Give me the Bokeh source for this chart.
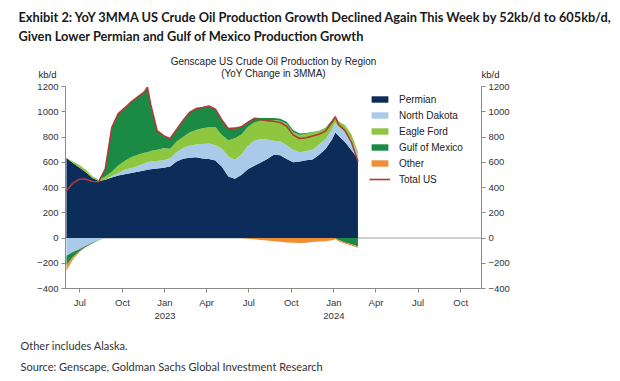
import numpy as np
from bokeh.plotting import figure
from bokeh.models import (Range1d, LinearAxis, FixedTicker, Span, Label,
                          Legend, LegendItem)
from bokeh.embed import file_html
from bokeh.resources import INLINE

# ---------------- data (kb/d, YoY change in 3MMA) ----------------
dates = ["2022-06-02", "2022-06-16", "2022-06-30", "2022-07-14", "2022-07-28",
         "2022-08-11", "2022-08-25", "2022-09-08", "2022-09-22", "2022-10-06",
         "2022-10-20", "2022-11-03", "2022-11-17", "2022-11-24", "2022-12-01",
         "2022-12-15", "2022-12-29", "2023-01-12", "2023-01-26", "2023-02-09",
         "2023-02-23", "2023-03-09", "2023-03-23", "2023-04-06", "2023-04-20",
         "2023-05-04", "2023-05-18", "2023-06-01", "2023-06-15", "2023-06-29",
         "2023-07-13", "2023-07-27", "2023-08-10", "2023-08-24", "2023-09-07",
         "2023-09-21", "2023-10-05", "2023-10-19", "2023-11-02", "2023-11-16",
         "2023-11-30", "2023-12-14", "2023-12-28", "2024-01-04", "2024-01-11",
         "2024-01-25", "2024-02-08", "2024-02-22"]

permian = [634, 595, 558, 520, 475, 452, 462, 480, 495, 505,
           515, 525, 535, 540, 545, 550, 556, 566, 605, 628,
           636, 640, 630, 626, 613, 565, 488, 470, 500, 545,
           572, 598, 625, 660, 655, 625, 600, 605, 615, 622,
           660, 705, 780, 835, 810, 760, 695, 628]
north_dakota = [-140, -110, -90, -62, -38, -15, 0, 10, 20, 35,
                40, 45, 55, 60, 60, 60, 60, 65, 75, 84,
                94, 100, 115, 122, 122, 141, 157, 150, 160, 185,
                198, 187, 155, 110, 110, 110, 100, 75, 75, 78,
                80, 80, 80, 80, 70, 90, 80, 35]
eagle_ford = [0, 10, 20, 20, 15, 10, 25, 35, 60, 70,
              85, 90, 85, 80, 85, 90, 95, 75, 85, 88,
              105, 115, 125, 129, 142, 109, 130, 170, 160, 150,
              145, 145, 155, 165, 163, 170, 140, 135, 135, 135,
              108, 80, 55, 55, 45, 45, 45, 20]
gulf_of_mexico = [-75, -40, -15, -8, -5, -2, 60, 350, 410, 420,
                  438, 458, 480, 515, 370, 150, 100, 80, 95, 130,
                  160, 170, 163, 168, 143, 120, 91, 80, 60, 40,
                  40, 21, 15, 15, 17, 15, 15, 13, 7, 5,
                  2, 7, 20, 0, -15, -35, -50, -68]
other = [-45, -20, -8, -3, 0, 0, 0, 0, 0, 0,
         0, 0, 0, 0, 0, 0, 0, 0, 0, 0,
         0, 0, 0, 0, 0, 0, 0, 0, 0, -5,
         -10, -15, -20, -25, -30, -35, -38, -40, -38, -32,
         -28, -25, -18, -10, -10, -10, -10, -10]

series_names = ["Permian", "North Dakota", "Eagle Ford", "Gulf of Mexico", "Other"]
series_colors = ["#0c2d5a", "#a9cbe9", "#8fc640", "#1b8a45", "#ef8e35"]
total_color = "#b03a35"

tick_dates = ["2022-07-01", "2022-10-01", "2023-01-01", "2023-04-01", "2023-07-01",
              "2023-10-01", "2024-01-01", "2024-04-01", "2024-07-01", "2024-10-01"]
tick_labels = ["Jul", "Oct", "Jan\n2023", "Apr", "Jul", "Oct", "Jan\n2024",
               "Apr", "Jul", "Oct"]
y_ticks = [-400, -200, 0, 200, 400, 600, 800, 1000, 1200]
x_start, x_end = "2022-05-31", "2024-11-15"
y_start, y_end = -400, 1200

title1 = "Exhibit 2: YoY 3MMA US Crude Oil Production Growth Declined Again This Week by 52kb/d to 605kb/d,"
title2 = "Given Lower Permian and Gulf of Mexico Production Growth"
chart_title1 = "Genscape US Crude Oil Production by Region"
chart_title2 = "(YoY Change in 3MMA)"
note1 = "Other includes Alaska."
note2 = "Source: Genscape, Goldman Sachs Global Investment Research"


def ms(d):
    return np.array(d, dtype="datetime64[ms]").astype("int64").astype(float)


x = ms(dates)
vals = [np.array(v, dtype=float) for v in
        (permian, north_dakota, eagle_ford, gulf_of_mexico, other)]
total = np.sum(vals, axis=0)

# ---------------- layout ----------------
W, H = 620, 380
FL, FR, FT, FB = 65, 481, 86, 288     # frame edges in page px
X0, X1 = float(ms(x_start)), float(ms(x_end))
p = figure(width=W, height=H, output_backend="svg", toolbar_location=None,
           x_range=Range1d(X0, X1), y_range=Range1d(y_start, y_end),
           min_border_left=FL, min_border_right=W - FR,
           min_border_top=FT, min_border_bottom=H - FB)
p.outline_line_color = None
p.grid.visible = False
p.background_fill_color = "white"

AX = "#8a8a8a"
FONT = "Liberation Sans"
HEAD = "Lato"


def style_axis(ax):
    ax.axis_line_color = AX
    ax.major_tick_line_color = AX
    ax.minor_tick_line_color = None
    ax.major_tick_out = 4
    ax.major_tick_in = 0
    ax.major_label_text_font = FONT
    ax.major_label_text_font_size = "9.5px"
    ax.major_label_text_color = "#333333"
    ax.major_label_standoff = 3


p.yaxis.ticker = FixedTicker(ticks=y_ticks)
style_axis(p.yaxis[0])
ry = LinearAxis(ticker=FixedTicker(ticks=y_ticks))
style_axis(ry)
p.add_layout(ry, "right")

tick_ms = [int(v) for v in ms(tick_dates)]
p.xaxis.ticker = FixedTicker(ticks=tick_ms)
p.xaxis.major_label_overrides = {t: l for t, l in zip(tick_ms, tick_labels)}
style_axis(p.xaxis[0])
p.xaxis.major_label_standoff = 4

p.add_layout(Span(location=0, dimension="width", line_color="#a0a0a0",
                  line_width=1, level="underlay"))

# ---------------- stacked areas ----------------
renderers = {}
base = np.zeros_like(x)
for name, v, c in zip(series_names, vals, series_colors):
    pos = np.clip(v, 0, None)
    r = p.varea(x=x, y1=base, y2=base + pos, fill_color=c, fill_alpha=1)
    renderers[name] = r
    base = base + pos
base = np.zeros_like(x)
for name, v, c in zip(series_names, vals, series_colors):
    if name == "Permian":
        continue
    neg = np.clip(v, None, 0)
    p.varea(x=x, y1=base + neg, y2=base, fill_color=c, fill_alpha=1)
    base = base + neg

tl = p.line(x, total, line_color=total_color, line_width=1.6)

items = [LegendItem(label=n, renderers=[renderers[n]]) for n in series_names]
items.append(LegendItem(label="Total US", renderers=[tl]))
legend = Legend(items=items, location=(369 - FL, FB - 185), padding=0, margin=0,
                glyph_width=21, glyph_height=8, label_height=12, spacing=4,
                label_standoff=9, label_text_font=FONT, label_text_font_size="10px",
                label_text_color="#222222", border_line_color=None,
                background_fill_alpha=0)
p.add_layout(legend)


# texts outside the frame: labels placed in side panels (not clipped),
# positioned with data coordinates converted from page pixels
def lab(text, px, py, size, side="above", font=FONT, style="normal",
        align="left", color="#222222"):
    xd = X0 + (px - FL) / (FR - FL) * (X1 - X0)
    yd = y_start + (FB - py) / (FB - FT) * (y_end - y_start)
    p.add_layout(Label(x=xd, y=yd, x_units="data", y_units="data",
                       text=text, text_font=font, text_font_size=size,
                       text_font_style=style, text_align=align,
                       text_baseline="middle", text_color=color), side)


lab(title1, 18, 16, "12.8px", "above", HEAD, "bold", color="#1a1a1a")
lab(title2, 18, 35, "12.8px", "above", HEAD, "bold", color="#1a1a1a")
lab(chart_title1, 273, 61, "10px", "above", align="center")
lab(chart_title2, 273, 73, "10px", "above", align="center")
lab("kb/d", 47, 74, "9.5px", "left", align="center")
lab("kb/d", 490, 74, "9.5px", "right", align="center")
lab(note1, 20, 345, "11px", "below", HEAD, color="#333333")
lab(note2, 20, 366, "11px", "below", HEAD, color="#333333")

open("out.html", "w").write(file_html(p, INLINE))
